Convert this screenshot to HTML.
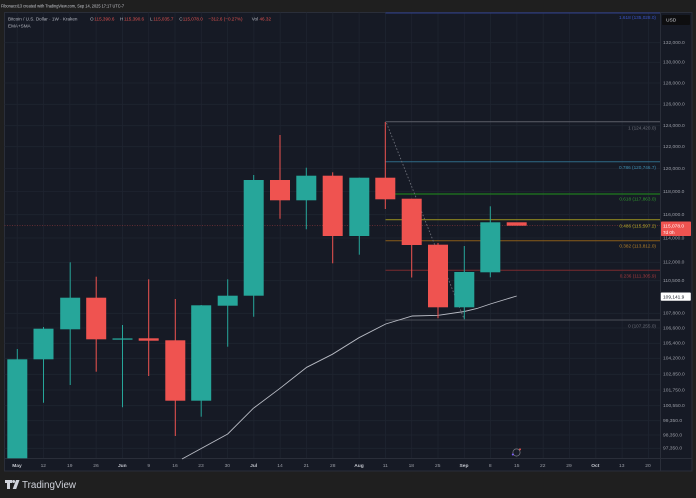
<!DOCTYPE html>
<html><head><meta charset="utf-8"><style>
html,body{margin:0;padding:0;background:#1f1f1f;width:696px;height:498px;overflow:hidden}
svg{display:block}
text{font-family:"Liberation Sans",sans-serif}
</style></head><body>
<svg width="696" height="498" viewBox="0 0 696 498" xmlns="http://www.w3.org/2000/svg">
<rect x="0" y="0" width="696" height="498" fill="#1f1f1f"/>
<text x="1" y="7.6" font-size="4.6" fill="#c8cad0" textLength="123" lengthAdjust="spacingAndGlyphs">Fibonacci13 created with TradingView.com, Sep 14, 2025 17:17 UTC-7</text>
<!-- main frame -->
<rect x="4.5" y="12.5" width="687.5" height="458.5" fill="#161a25" stroke="#2a2e39" stroke-width="1"/>
<!-- grid -->
<g stroke="#1f2430" stroke-width="0.8">
<line x1="4.5" x2="660.5" y1="42.7" y2="42.7"/><line x1="4.5" x2="660.5" y1="62.3" y2="62.3"/><line x1="4.5" x2="660.5" y1="83" y2="83"/><line x1="4.5" x2="660.5" y1="104.3" y2="104.3"/><line x1="4.5" x2="660.5" y1="125.7" y2="125.7"/><line x1="4.5" x2="660.5" y1="146.7" y2="146.7"/><line x1="4.5" x2="660.5" y1="168.5" y2="168.5"/><line x1="4.5" x2="660.5" y1="191.5" y2="191.5"/><line x1="4.5" x2="660.5" y1="214.7" y2="214.7"/><line x1="4.5" x2="660.5" y1="238" y2="238"/><line x1="4.5" x2="660.5" y1="262.3" y2="262.3"/><line x1="4.5" x2="660.5" y1="280.7" y2="280.7"/><line x1="4.5" x2="660.5" y1="313.3" y2="313.3"/><line x1="4.5" x2="660.5" y1="328" y2="328"/><line x1="4.5" x2="660.5" y1="343.3" y2="343.3"/><line x1="4.5" x2="660.5" y1="358.3" y2="358.3"/><line x1="4.5" x2="660.5" y1="374.3" y2="374.3"/><line x1="4.5" x2="660.5" y1="390" y2="390"/><line x1="4.5" x2="660.5" y1="405.7" y2="405.7"/><line x1="4.5" x2="660.5" y1="420.7" y2="420.7"/><line x1="4.5" x2="660.5" y1="435" y2="435"/><line x1="4.5" x2="660.5" y1="448.3" y2="448.3"/>
</g>
<g stroke="#1f2430" stroke-width="0.8">
<line y1="12.5" y2="458.5" x1="17.2" x2="17.2"/><line y1="12.5" y2="458.5" x1="43.5" x2="43.5"/><line y1="12.5" y2="458.5" x1="69.8" x2="69.8"/><line y1="12.5" y2="458.5" x1="96.1" x2="96.1"/><line y1="12.5" y2="458.5" x1="122.4" x2="122.4"/><line y1="12.5" y2="458.5" x1="148.7" x2="148.7"/><line y1="12.5" y2="458.5" x1="175" x2="175"/><line y1="12.5" y2="458.5" x1="201.3" x2="201.3"/><line y1="12.5" y2="458.5" x1="227.6" x2="227.6"/><line y1="12.5" y2="458.5" x1="253.9" x2="253.9"/><line y1="12.5" y2="458.5" x1="280.2" x2="280.2"/><line y1="12.5" y2="458.5" x1="306.5" x2="306.5"/><line y1="12.5" y2="458.5" x1="332.8" x2="332.8"/><line y1="12.5" y2="458.5" x1="359.1" x2="359.1"/><line y1="12.5" y2="458.5" x1="385.4" x2="385.4"/><line y1="12.5" y2="458.5" x1="411.7" x2="411.7"/><line y1="12.5" y2="458.5" x1="438" x2="438"/><line y1="12.5" y2="458.5" x1="464.3" x2="464.3"/><line y1="12.5" y2="458.5" x1="490.6" x2="490.6"/><line y1="12.5" y2="458.5" x1="516.9" x2="516.9"/><line y1="12.5" y2="458.5" x1="543.2" x2="543.2"/><line y1="12.5" y2="458.5" x1="569.5" x2="569.5"/><line y1="12.5" y2="458.5" x1="595.8" x2="595.8"/><line y1="12.5" y2="458.5" x1="622.1" x2="622.1"/><line y1="12.5" y2="458.5" x1="648.4" x2="648.4"/>
</g>
<!-- axis separators -->
<line x1="660.5" x2="660.5" y1="12.5" y2="471" stroke="#2a2e39" stroke-width="1"/>
<line x1="4.5" x2="692" y1="458.5" y2="458.5" stroke="#2a2e39" stroke-width="1"/>

<!-- header inside chart -->
<text y="20.3" font-size="4.6" fill="#b2b5be"><tspan x="8">Bitcoin / U.S. Dollar · 1W · Kraken</tspan><tspan x="90">O</tspan><tspan x="94.3" fill="#e0524f">115,390.6</tspan><tspan x="120">H</tspan><tspan x="124" fill="#e0524f">115,390.6</tspan><tspan x="150">L</tspan><tspan x="153.3" fill="#e0524f">115,035.7</tspan><tspan x="179.3">C</tspan><tspan x="182.7" fill="#e0524f">115,078.0</tspan><tspan x="208.3" fill="#e0524f">−312.6 (−0.27%)</tspan><tspan x="251.7">Vol</tspan><tspan x="259.5" fill="#e0524f">46.32</tspan></text>
<text x="8" y="27.6" font-size="4.6" fill="#b2b5be">EMA+SMA</text>

<!-- fib 1.618 line at top -->
<line x1="385.5" x2="660" y1="13" y2="13" stroke="#2d3f8a" stroke-width="1"/>
<!-- current price dotted -->
<line x1="4.5" x2="660" y1="225.6" y2="225.6" stroke="#7a3236" stroke-width="0.8" stroke-dasharray="1,1.5"/>
<!-- fib lines -->
<line x1="385.5" x2="660" y1="121.7" y2="121.7" stroke="#5b5e68" stroke-width="1"/>
<line x1="385.5" x2="660" y1="161.7" y2="161.7" stroke="#2f6a86" stroke-width="1"/>
<line x1="385.5" x2="660" y1="194" y2="194" stroke="#1f7a1f" stroke-width="1.2"/>
<line x1="385.5" x2="660" y1="219.7" y2="219.7" stroke="#8a8420" stroke-width="1.2"/>
<line x1="385.5" x2="660" y1="240.7" y2="240.7" stroke="#8a5c1a" stroke-width="1"/>
<line x1="385.5" x2="660" y1="270.3" y2="270.3" stroke="#7a2a2f" stroke-width="1"/>
<line x1="385.5" x2="660" y1="320" y2="320" stroke="#4b4e58" stroke-width="1"/>
<!-- fib labels -->
<g font-size="4.7" text-anchor="end">
<text x="656" y="19" fill="#3a55c8">1.618 (135,028.0)</text>
<text x="656" y="129.4" fill="#6f727c">1 (124,420.0)</text>
<text x="656" y="168.8" fill="#3e8fb3">0.786 (120,746.7)</text>
<text x="656" y="200.7" fill="#2e9a2e">0.618 (117,863.0)</text>
<text x="656" y="227.7" fill="#b8ab2a">0.486 (115,597.2)</text>
<text x="656" y="247.4" fill="#b8822a">0.382 (113,812.0)</text>
<text x="656" y="277.4" fill="#a83a3e">0.236 (111,305.9)</text>
<text x="656" y="327.4" fill="#6a6d77">0 (107,255.0)</text>
</g>
<!-- fib diagonal -->
<line x1="386.5" y1="123" x2="463.5" y2="317.5" stroke="#6a6d77" stroke-width="0.9" stroke-dasharray="1.6,1.8"/>

<!-- EMA line -->
<polyline fill="none" stroke="#b8bbc4" stroke-width="0.9" points="182,459 227.7,434 253.3,408.3 280,388.3 306.7,367.3 332.3,354.3 359,337.7 385.7,324 412.3,316 438.3,315.3 464.3,311.5 477,308.5 490.3,304 516.7,296"/>

<!-- candles -->
<g stroke-width="1">
<g fill="#26a69a" stroke="#26a69a">
<line x1="17.3" x2="17.3" y1="349" y2="458"/><rect x="7.3" y="359.3" width="20" height="99" stroke="none"/>
<line x1="43.5" x2="43.5" y1="327" y2="402.7"/><rect x="33.5" y="328.7" width="20" height="30.6" stroke="none"/>
<line x1="70.2" x2="70.2" y1="262.3" y2="385"/><rect x="60.2" y="297.7" width="20" height="31.6" stroke="none"/>
<line x1="122.5" x2="122.5" y1="325" y2="407.3"/><rect x="112.5" y="338.4" width="20" height="1.3" stroke="none"/>
<line x1="201.2" x2="201.2" y1="305" y2="416.7"/><rect x="191.2" y="305.3" width="20" height="95.4" stroke="none"/>
<line x1="227.7" x2="227.7" y1="279.3" y2="346.7"/><rect x="217.7" y="295.7" width="20" height="10" stroke="none"/>
<line x1="253.7" x2="253.7" y1="175" y2="316.7"/><rect x="243.7" y="180" width="20" height="115.7" stroke="none"/>
<line x1="306.3" x2="306.3" y1="167.7" y2="229.3"/><rect x="296.3" y="175.7" width="20" height="24.6" stroke="none"/>
<line x1="359.3" x2="359.3" y1="177.7" y2="254.7"/><rect x="349.3" y="177.7" width="20" height="58.3" stroke="none"/>
<line x1="464.3" x2="464.3" y1="246" y2="319.3"/><rect x="454.3" y="272" width="20" height="35.3" stroke="none"/>
<line x1="490.3" x2="490.3" y1="206.3" y2="277.3"/><rect x="480.3" y="222.3" width="20" height="50" stroke="none"/>
</g>
<g fill="#ef5350" stroke="#ef5350">
<line x1="96.2" x2="96.2" y1="276.7" y2="371.7"/><rect x="86.2" y="297.7" width="20" height="41.6" stroke="none"/>
<line x1="148.7" x2="148.7" y1="279.3" y2="376"/><rect x="138.7" y="338.3" width="20" height="2.4" stroke="none"/>
<line x1="175.3" x2="175.3" y1="299" y2="436"/><rect x="165.3" y="340.3" width="20" height="60.4" stroke="none"/>
<line x1="280" x2="280" y1="135" y2="218.7"/><rect x="270" y="180" width="20" height="20.3" stroke="none"/>
<line x1="332.7" x2="332.7" y1="172.3" y2="263.3"/><rect x="322.7" y="175.7" width="20" height="60.3" stroke="none"/>
<line x1="385.3" x2="385.3" y1="122" y2="209"/><rect x="375.3" y="177.7" width="20" height="21.6" stroke="none"/>
<line x1="411.7" x2="411.7" y1="198.7" y2="277.5"/><rect x="401.7" y="198.7" width="20" height="46.3" stroke="none"/>
<line x1="438" x2="438" y1="243" y2="318.3"/><rect x="428" y="244.7" width="20" height="62.6" stroke="none"/>
<rect x="506.7" y="222.3" width="20" height="3.4" stroke="none"/>
</g>
</g>

<!-- right axis labels -->
<g font-size="4.9" fill="#9a9da6" dominant-baseline="middle">
<text x="663" y="42.7">132,000.0</text><text x="663" y="62.3">130,000.0</text><text x="663" y="83">128,000.0</text><text x="663" y="104.3">126,000.0</text><text x="663" y="125.7">124,000.0</text><text x="663" y="146.7">122,000.0</text><text x="663" y="168.5">120,000.0</text><text x="663" y="191.5">118,000.0</text><text x="663" y="214.7">116,000.0</text><text x="663" y="238.3">114,000.0</text><text x="663" y="262.3">112,000.0</text><text x="663" y="280.7">110,500.0</text><text x="663" y="313.3">107,800.0</text><text x="663" y="328">106,600.0</text><text x="663" y="343.3">105,400.0</text><text x="663" y="358.3">104,200.0</text><text x="663" y="374.3">102,850.0</text><text x="663" y="390">101,750.0</text><text x="663" y="405.7">100,550.0</text><text x="663" y="420.7">99,350.0</text><text x="663" y="435">98,350.0</text><text x="663" y="448.3">97,350.0</text>
</g>
<!-- USD box -->
<rect x="662" y="15" width="28" height="10" rx="1" fill="#0e0e10"/>
<text x="666" y="21.7" font-size="4.9" fill="#c8cad0">USD</text>
<!-- price boxes -->
<rect x="661" y="221.5" width="30" height="14.5" rx="0.8" fill="#ef5350"/>
<text x="663" y="227.7" font-size="4.8" fill="#ffffff">115,078.0</text>
<text x="663" y="234" font-size="4.6" fill="#ffffff">7d 0h</text>
<rect x="660.8" y="292.5" width="30" height="8.2" rx="0.8" fill="#ffffff"/>
<text x="663" y="298.5" font-size="4.8" fill="#131722">109,141.9</text>

<!-- time axis labels -->
<g font-size="4.9" fill="#9a9da6" text-anchor="middle">
<text x="17" y="466.8" font-weight="bold" fill="#c3c6ce">May</text><text x="43.3" y="466.8">12</text><text x="69.7" y="466.8">19</text><text x="96" y="466.8">26</text><text x="122.3" y="466.8" font-weight="bold" fill="#c3c6ce">Jun</text><text x="148.7" y="466.8">9</text><text x="175" y="466.8">16</text><text x="201" y="466.8">23</text><text x="227.3" y="466.8">30</text><text x="253.7" y="466.8" font-weight="bold" fill="#c3c6ce">Jul</text><text x="280" y="466.8">14</text><text x="306.3" y="466.8">21</text><text x="332.7" y="466.8">28</text><text x="359" y="466.8" font-weight="bold" fill="#c3c6ce">Aug</text><text x="385.3" y="466.8">11</text><text x="411.3" y="466.8">18</text><text x="437.7" y="466.8">25</text><text x="464" y="466.8" font-weight="bold" fill="#c3c6ce">Sep</text><text x="490.3" y="466.8">8</text><text x="516.7" y="466.8">15</text><text x="542.7" y="466.8">22</text><text x="569" y="466.8">29</text><text x="595.3" y="466.8" font-weight="bold" fill="#c3c6ce">Oct</text><text x="621.7" y="466.8">13</text><text x="648" y="466.8">20</text>
</g>
<!-- small event icon -->
<circle cx="516.5" cy="452.5" r="3.6" fill="none" stroke="#7a7d86" stroke-width="0.7"/>
<circle cx="512.8" cy="454.5" r="1" fill="#7c5cff"/>
<circle cx="520" cy="449.4" r="1" fill="#e0524f"/>

<!-- TradingView logo -->
<g fill="#d1d4dc">
<path d="M5 480h7v3h-2v6h-3v-6h-2z"/>
<circle cx="13.6" cy="481.5" r="1.5"/>
<path d="M16 480h3.5l-3.3 9h-3.5z"/>
</g>
<text x="22" y="488" font-size="10" fill="#d1d4dc" textLength="54" lengthAdjust="spacingAndGlyphs">TradingView</text>
</svg>
</body></html>
